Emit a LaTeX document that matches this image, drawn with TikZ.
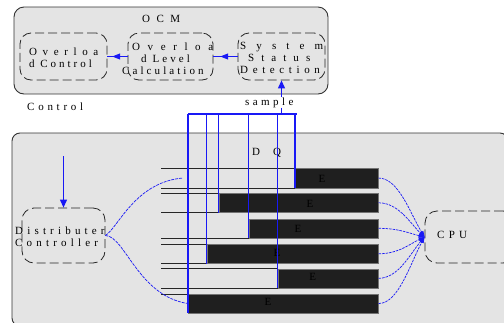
\documentclass[tikz,border=0pt]{standalone}
\usepackage{fontspec}
\setmainfont{Liberation Serif}
\usetikzlibrary{arrows.meta,decorations.markings,calc}
\definecolor{wireblue}{RGB}{25,25,245}
\definecolor{panelgray}{RGB}{228,228,228}
\newcommand\spaced[2]{{\addfontfeature{LetterSpace=#1}#2}}

\begin{document}
\begin{tikzpicture}[x=1pt,y=-1pt,
  panel/.style={draw=black!80, line width=0.9pt, fill=panelgray, rounded corners=10pt, inner sep=0},
  softbox/.style={draw=black!85, line width=0.8pt, dash pattern=on 9pt off 4pt, rounded corners=11pt, inner sep=0},
  txt/.style={inner sep=0, font=\fontsize{11}{12}\selectfont, align=left},
  rowline/.style={draw=black!85, line width=0.9pt},
  bar/.style={draw=black!55, fill=black!88, line width=0.6pt, anchor=north west, inner sep=0},
  wire/.style={draw=wireblue, line width=1.1pt},
  feed/.style={draw=wireblue, line width=0.7pt, dash pattern=on 3pt off 1pt},
  tip/.style={-{Triangle[length=8pt,width=7pt]}, draw=wireblue, fill=wireblue, line width=1.1pt},
  smalltip/.style={-{Triangle[length=6pt,width=4pt]}},
  midtip/.style={postaction={decorate}, decoration={markings,
      mark=at position #1 with {\arrow[wireblue]{Triangle[length=8pt,width=6pt]}}}}
]
\useasboundingbox (0,0) rectangle (504,322);
\clip (0,0) rectangle (504,322);

% ---------- overload control module ----------
\node[panel, minimum width=314pt, minimum height=87pt] (ocm) at (171,50.5) {};
\node[txt, anchor=base west] (ocmtitle) at (142,22.5) {\spaced{59}{OCM}};

\node[softbox, minimum width=87pt, minimum height=47pt] (oc)  at (63.5,56.5) {};
\node[softbox, minimum width=85pt, minimum height=47pt] (olc) at (170.5,56.5) {};
\node[softbox, minimum width=87pt, minimum height=47pt] (ssd) at (281.5,56.5) {};

\node[txt, anchor=north west] (octext) at (29,47.5)
  {\spaced{51}{Overloa}\\\spaced{27}{d Control}};
\node[txt, anchor=north west] (olctext) at (122,42.5)
  {\hspace*{10pt}\spaced{69}{Overloa}\\\hspace*{19pt}\spaced{28}{d Level}\\\spaced{28}{Calculation}};
\node[txt, anchor=north west] (ssdtext) at (240,42.5)
  {\spaced{92}{System}\\\hspace*{8pt}\spaced{64}{Status}\\\spaced{42}{Detection}};

\draw[wire, midtip=0.72] (ssd.west) -- (olc.east);
\draw[wire, midtip=0.76] (olc.west) -- (oc.east);

\node[txt, anchor=base west] (ctrl) at (27,110) {\spaced{34}{Control}};
\node[txt, anchor=base west] (smp) at (245,105) {\spaced{31}{sample}};

% ---------- distribution / queue area ----------
\node[panel, rounded corners=8pt, minimum width=496pt, minimum height=193pt] (dq) at (260,229.5) {};

\node[softbox, rounded corners=12pt, minimum width=83pt, minimum height=55pt] (dc) at (63.5,235.5) {};
\node[txt, anchor=north west] (dctext) at (15,226.5)
  {\spaced{38}{Distributer}\\\spaced{38}{Controller}};

\node[softbox, rounded corners=12pt, minimum width=90pt, minimum height=52pt] (cpu) at (470,237) {};
\node[txt, anchor=base west] (cputext) at (437,238) {\spaced{39}{CPU}};

\node[txt, anchor=base west] (dlabel) at (252,155) {D};
\node[txt, anchor=base west] (qlabel) at (273,155) {Q};

% queue bars
\node[bar, minimum width=83pt,    minimum height=19.5pt] (e1) at (295,168) {};
\node[bar, minimum width=159.5pt, minimum height=19pt]   (e2) at (218.5,193) {};
\node[bar, minimum width=129.5pt, minimum height=19pt]   (e3) at (248.5,218.5) {};
\node[bar, minimum width=171.5pt, minimum height=19pt]   (e4) at (206.5,244) {};
\node[bar, minimum width=100.5pt, minimum height=19pt]   (e5) at (277.5,268.5) {};
\node[bar, minimum width=190pt,   minimum height=18.5pt] (e6) at (188,294) {};

\node[txt, anchor=base] (t1) at (322,182) {E};
\node[txt, anchor=base] (t2) at (310,207) {E};
\node[txt, anchor=base] (t3) at (298,232) {E};
\node[txt, anchor=base] (t4) at (277,256) {E};
\node[txt, anchor=base] (t5) at (312.7,280) {E};
\node[txt, anchor=base] (t6) at (268,305.7) {E};

% row outlines in front of each bar
\coordinate (lx) at (161,0);
\draw[rowline] (e1.north west -| lx) -- (e1.north west);
\draw[rowline] (e1.south west -| lx) -- (e1.south west);
\draw[rowline] (e2.north west -| lx) -- (e2.north west);
\draw[rowline] (e2.south west -| lx) -- (e2.south west);
\draw[rowline] (e3.south west -| lx) -- (e3.south west);
\draw[rowline] (e4.north west -| lx) -- (e4.north west);
\draw[rowline] (e4.south west -| lx) -- (e4.south west);
\draw[rowline] (e5.north west -| lx) -- (e5.north west);
\draw[rowline] (e5.south west -| lx) -- (e5.south west);
\draw[rowline] (e6.north west -| lx) -- (e6.north west);

% sampling bus
\coordinate (brk) at (282,114);
\draw[wire] (e6.south west |- brk) -- ([xshift=1.5pt]e1.south west |- brk);
\foreach \b in {e1,e2,e3,e4,e5,e6}
  \draw[wire] (\b.south west |- brk) -- (\b.south west);
\draw[wire] (ssd.south |- smp.south) -- (ssd.south |- brk);
\draw[tip] (ssd.south |- smp.north) -- (ssd.south);

% control input to the distributer
\coordinate (ctlin) at (63.5,156);
\draw[tip] (ctlin) -- (dc.north);

% distributer feeds
\coordinate (feedtop) at (183,178);
\draw[feed] (dc.east) .. controls (118,228) and (135,182) .. (feedtop);
\draw[feed] (dc.east) .. controls (125,236) and (138,296) .. (e6.west |- e6.center);

% outputs to the CPU
\foreach \b in {e1,e2,e3,e4,e5,e6}
  \draw[feed, dash pattern=on 2.5pt off 1pt, smalltip]
    (\b.east) .. controls ($(\b.east)+(20,0)$) and ($(\b.east)!0.6!(cpu.west)+(4,0)$) .. (cpu.west);
\end{tikzpicture}
\end{document}
